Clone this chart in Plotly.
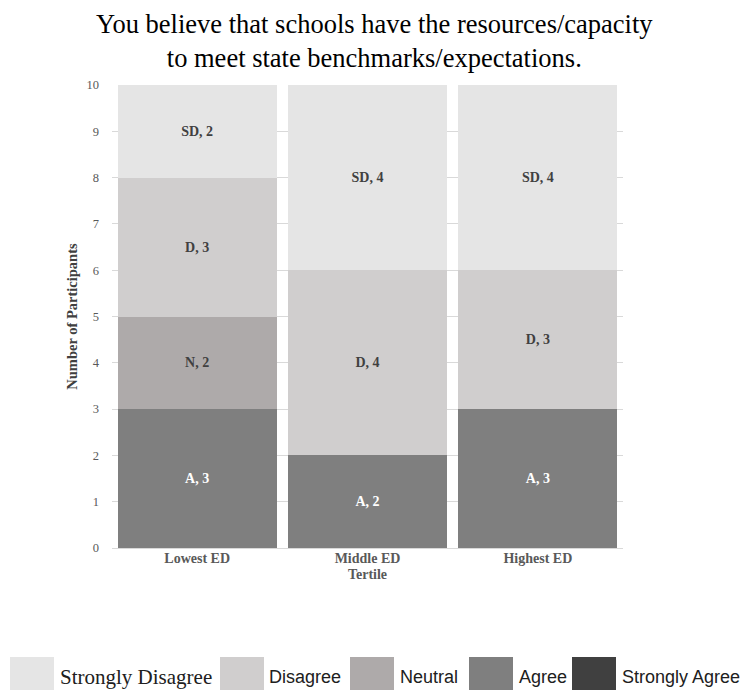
import plotly.graph_objects as go

# Survey responses per economically-disadvantaged tertile
categories = ["Lowest ED", "Middle ED", "Highest ED"]
responses = ["Strongly Agree", "Agree", "Neutral", "Disagree", "Strongly Disagree"]
abbrev = ["SA", "A", "N", "D", "SD"]
strongly_agree = [0, 0, 0]
agree = [3, 2, 3]
neutral = [2, 0, 0]
disagree = [3, 4, 3]
strongly_disagree = [2, 4, 4]

series = [strongly_agree, agree, neutral, disagree, strongly_disagree]
colors = ["#404040", "#7f7f7f", "#aeaaaa", "#d0cece", "#e5e5e5"]
label_colors = ["#ffffff", "#ffffff", "#404040", "#404040", "#404040"]

W, H = 741, 690
L, R, T, B = 112, 118, 85, 142
PW, PH = W - L - R, H - T - B

SERIF = "Liberation Serif, Times New Roman, serif"
SANS = "Liberation Sans, Arial, sans-serif"

fig = go.Figure()
for name, ab, vals, col, lc in zip(responses, abbrev, series, colors, label_colors):
    fig.add_trace(go.Bar(
        x=categories, y=vals, name=name,
        marker=dict(color=col, line=dict(width=0)),
        text=[f"<b>{ab}, {v}</b>" if v > 0 else "" for v in vals],
        textposition="inside", insidetextanchor="middle",
        textangle=0,
        insidetextfont=dict(family=SERIF, size=14, color=lc),
        hoverinfo="skip", showlegend=False,
    ))


def px_x(p):
    return (p - L) / PW


def px_y(p):
    return (H - B - p) / PH


# Legend drawn as swatches with labels along the bottom
legend_items = [
    ("Strongly Disagree", "#e5e5e5", 10, 58, SERIF, 21),
    ("Disagree", "#d0cece", 220, 267, SANS, 18),
    ("Neutral", "#aeaaaa", 350, 398, SANS, 18),
    ("Agree", "#7f7f7f", 469, 517, SANS, 18),
    ("Strongly Agree", "#404040", 572, 620, SANS, 18),
]
shapes = []
annotations = []
for label, col, sx, tx, fam, fs in legend_items:
    shapes.append(dict(type="rect", xref="paper", yref="paper",
                       x0=px_x(sx), x1=px_x(sx + 44), y0=px_y(657), y1=px_y(701),
                       fillcolor=col, line=dict(width=0), layer="above"))
    annotations.append(dict(text=label, xref="paper", yref="paper",
                            x=px_x(tx), y=px_y(677), xanchor="left", yanchor="middle",
                            showarrow=False, font=dict(family=fam, size=fs, color="#202020")))

# Chart heading
annotations.append(dict(
    text="You believe that schools have the resources/capacity<br>to meet state benchmarks/expectations.",
    xref="paper", yref="paper", x=px_x(374), y=px_y(41),
    xanchor="center", yanchor="middle", showarrow=False,
    font=dict(family=SERIF, size=26.5, color="#000000"),
))

fig.update_layout(
    width=W, height=H,
    margin=dict(l=L, r=R, t=T, b=B),
    paper_bgcolor="white", plot_bgcolor="white",
    barmode="stack", bargap=0.065,
    xaxis=dict(
        showgrid=False, showline=False, ticks="",
        tickfont=dict(family=SERIF, size=14, color="#595959"),
        tickprefix="<b>", ticksuffix="</b>",
        title=dict(text="<b>Tertile</b>", standoff=4,
                   font=dict(family=SERIF, size=14, color="#595959")),
    ),
    yaxis=dict(
        range=[0, 10], dtick=1, showgrid=True, gridcolor="#d9d9d9", gridwidth=1,
        zeroline=True, zerolinecolor="#d9d9d9", zerolinewidth=1,
        showline=False, ticks="", ticklabelstandoff=12,
        tickfont=dict(family=SERIF, size=12.5, color="#595959"),
        title=dict(text="<b>Number of Participants</b>", standoff=5,
                   font=dict(family=SERIF, size=14.5, color="#404040")),
    ),
    shapes=shapes,
    annotations=annotations,
    showlegend=False,
)

fig.write_html("out.html")
